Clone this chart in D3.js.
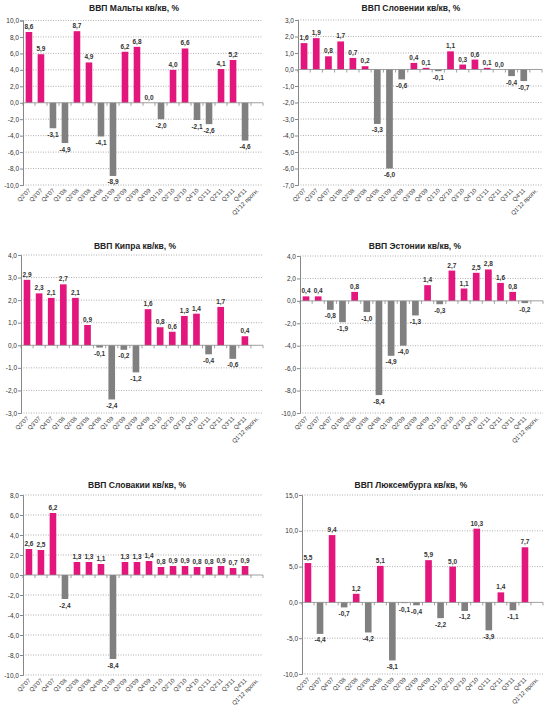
<!DOCTYPE html>
<html>
<head>
<meta charset="utf-8">
<script src="https://cdn.jsdelivr.net/npm/d3@7"></script>
<style>
body { margin: 0; background: #fff; }
svg { display: block; font-family: Arial, "Liberation Sans", sans-serif; }
</style>
</head>
<body>
<svg id="chart" width="550" height="720"></svg>
<script>
const categories = ["Q2'07","Q3'07","Q4'07","Q1'08","Q2'08","Q3'08","Q4'08","Q1'09","Q2'09","Q3'09","Q4'09","Q1'10","Q2'10","Q3'10","Q4'10","Q1'11","Q2'11","Q3'11","Q4'11","Q1'12 прогн."];

const maltaValues = [8.6, 5.9, -3.1, -4.9, 8.7, 4.9, -4.1, -8.9, 6.2, 6.8, 0.0, -2.0, 4.0, 6.6, -2.1, -2.6, 4.1, 5.2, -4.6, null];
const sloveniaValues = [1.6, 1.9, 0.8, 1.7, 0.7, 0.2, -3.3, -6.0, -0.6, 0.4, 0.1, -0.1, 1.1, 0.3, 0.6, 0.1, 0.0, -0.4, -0.7, null];
const cyprusValues = [2.9, 2.3, 2.1, 2.7, 2.1, 0.9, -0.1, -2.4, -0.2, -1.2, 1.6, 0.8, 0.6, 1.3, 1.4, -0.4, 1.7, -0.6, 0.4, null];
const estoniaValues = [0.4, 0.4, -0.8, -1.9, 0.8, -1.0, -8.4, -4.9, -4.0, -1.3, 1.4, -0.3, 2.7, 1.1, 2.5, 2.8, 1.6, 0.8, -0.2, null];
const slovakiaValues = [2.6, 2.5, 6.2, -2.4, 1.3, 1.3, 1.1, -8.4, 1.3, 1.3, 1.4, 0.8, 0.9, 0.9, 0.8, 0.8, 0.9, 0.7, 0.9, null];
const luxembourgValues = [5.5, -4.4, 9.4, -0.7, 1.2, -4.2, 5.1, -8.1, -0.1, -0.4, 5.9, -2.2, 5.0, -1.2, 10.3, -3.9, 1.4, -1.1, 7.7, null];

const titles = ["ВВП Мальты кв/кв, %", "ВВП Словении  кв/кв, %", "ВВП Кипра кв/кв, %", "ВВП Эстонии кв/кв, %", "ВВП Словакии кв/кв, %", "ВВП Люксембурга кв/кв, %"];
const yDomains = [[-10, 10], [-7, 3], [-3, 4], [-10, 4], [-10, 8], [-10, 15]];
const yTickSteps = [2, 1, 1, 2, 2, 5];

const panels = [
  { title: titles[0], values: maltaValues, dom: yDomains[0], step: yTickSteps[0], left: 23, right: 263, top: 20.5, bottom: 185, tx: 134, ty: 11 },
  { title: titles[1], values: sloveniaValues, dom: yDomains[1], step: yTickSteps[1], left: 298, right: 542, top: 20, bottom: 185, tx: 411, ty: 11 },
  { title: titles[2], values: cyprusValues, dom: yDomains[2], step: yTickSteps[2], left: 21, right: 263, top: 255, bottom: 413, tx: 135, ty: 249 },
  { title: titles[3], values: estoniaValues, dom: yDomains[3], step: yTickSteps[3], left: 300, right: 543, top: 256, bottom: 413, tx: 415, ty: 249 },
  { title: titles[4], values: slovakiaValues, dom: yDomains[4], step: yTickSteps[4], left: 23, right: 263, top: 495, bottom: 675, tx: 137, ty: 488 },
  { title: titles[5], values: luxembourgValues, dom: yDomains[5], step: yTickSteps[5], left: 302, right: 543, top: 495, bottom: 674, tx: 411, ty: 488 }
];

const PINK = "#e2167c";
const GRAY = "#808080";
const fmt = v => d3.format(".1f")(v).replace(".", ",").replace("\u2212", "-");

const svg = d3.select("#chart");

panels.forEach(p => {
  const g = svg.append("g");
  const x = d3.scaleBand().domain(categories).range([p.left, p.right]).paddingInner(0.45).paddingOuter(0.22);
  const xb = d3.scaleBand().domain(categories).range([p.left, p.right]).padding(0);
  const y = d3.scaleLinear().domain(p.dom).range([p.bottom, p.top]);
  const ticks = d3.range(p.dom[0], p.dom[1] + p.step / 2, p.step);

  // title
  g.append("text").attr("x", p.tx).attr("y", p.ty)
    .attr("text-anchor", "middle").attr("font-size", 8.5).attr("font-weight", "bold")
    .attr("fill", "#222").text(p.title);

  // gridlines
  g.selectAll(".grid").data(ticks.filter(t => t !== 0)).enter().append("line")
    .attr("x1", p.left).attr("x2", p.right)
    .attr("y1", d => y(d)).attr("y2", d => y(d))
    .attr("stroke", "#9a9a9a").attr("stroke-width", 0.8).attr("stroke-dasharray", "1,1.5");

  // y axis
  const yAxis = d3.axisLeft(y).tickValues(ticks).tickSize(3).tickFormat(fmt);
  const ya = g.append("g").attr("transform", `translate(${p.left},0)`).call(yAxis);
  ya.select(".domain").attr("stroke", "#888");
  ya.selectAll(".tick line").attr("stroke", "#888");
  ya.selectAll(".tick text").attr("font-size", 6.5).attr("fill", "#333").attr("x", -4)
    .attr("font-family", "Arial, 'Liberation Sans', sans-serif");

  // bars
  const data = categories.map((c, i) => ({ c, v: p.values[i] })).filter(d => d.v !== null);
  g.selectAll(".bar").data(data.filter(d => d.v !== 0)).enter().append("rect")
    .attr("x", d => x(d.c))
    .attr("width", x.bandwidth())
    .attr("y", d => y(Math.max(0, d.v)))
    .attr("height", d => Math.abs(y(d.v) - y(0)))
    .attr("fill", d => d.v > 0 ? PINK : GRAY);

  // x axis line at zero
  g.append("line").attr("x1", p.left).attr("x2", p.right)
    .attr("y1", y(0)).attr("y2", y(0)).attr("stroke", "#888").attr("stroke-width", 0.8);
  g.selectAll(".xt").data(categories.concat(["__end"])).enter().append("line")
    .attr("x1", (d, i) => p.left + i * xb.step()).attr("x2", (d, i) => p.left + i * xb.step())
    .attr("y1", y(0)).attr("y2", y(0) + 3).attr("stroke", "#888").attr("stroke-width", 0.8);

  // value labels
  g.selectAll(".lbl").data(data).enter().append("text")
    .attr("x", d => x(d.c) + x.bandwidth() / 2)
    .attr("y", d => d.v >= 0 ? y(d.v) - 3 : y(d.v) + 8.5)
    .attr("text-anchor", "middle").attr("font-size", 6.5).attr("font-weight", "bold")
    .attr("fill", "#333").text(d => fmt(d.v));

  // x category labels
  g.selectAll(".xl").data(categories).enter().append("text")
    .attr("transform", d => `translate(${xb(d) + xb.bandwidth() / 2 + 2},${p.bottom + 6}) rotate(-45)`)
    .attr("text-anchor", "end").attr("font-size", 6).attr("fill", "#333").text(d => d);
});
</script>
</body>
</html>
